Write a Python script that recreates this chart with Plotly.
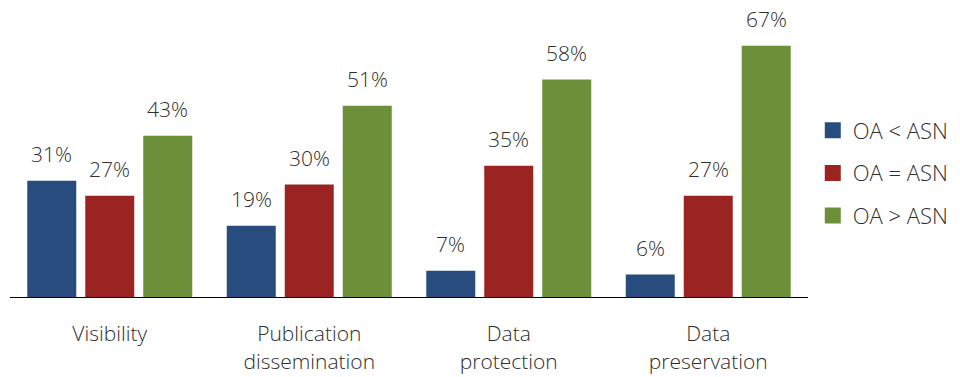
import plotly.graph_objects as go

categories = ["Visibility", "Publication<br>dissemination", "Data<br>protection", "Data<br>preservation"]
series_names = ["OA < ASN", "OA = ASN", "OA > ASN"]
oa_less = [31, 19, 7, 6]
oa_equal = [27, 30, 35, 27]
oa_greater = [43, 51, 58, 67]
colors = ["#294c7f", "#9b2423", "#6c8f3a"]

series_values = [oa_less, oa_equal, oa_greater]
FONT = dict(family="Open Sans", size=21, color="#2e2e2e", weight=300)
LEG_FONT = dict(family="Open Sans", size=22, color="#2e2e2e", weight=300)

fig = go.Figure()
offsets = [-58, 0, 58]
for name, vals, col, off in zip(series_names, series_values, colors, offsets):
    fig.add_trace(go.Bar(x=categories, y=vals, name=name, marker_color=col,
                         marker_line_width=0, showlegend=False))
    fig.add_trace(go.Scatter(x=[None], y=[None], mode="markers", name=name,
                             marker=dict(symbol="square", size=16, color=col),
                             legendgroup=name))
    for c, v in zip(categories, vals):
        fig.add_annotation(x=c, y=v, text=f"{v}%", showarrow=False,
                           xanchor="center", yanchor="bottom",
                           xshift=off, yshift=11, font=FONT)

fig.update_layout(
    width=960, height=377,
    margin=dict(l=10, r=152, t=0, b=80),
    paper_bgcolor="white", plot_bgcolor="white",
    barmode="group", bargap=0.128, bargroupgap=0.155,
    font=FONT,
    legend=dict(x=1.006, y=0.4175, xanchor="left", yanchor="middle",
                font=LEG_FONT, tracegroupgap=11, itemsizing="trace"),
    xaxis=dict(showline=True, linecolor="black", linewidth=1, ticks="",
               tickfont=FONT, ticklabelstandoff=18, showgrid=False),
    yaxis=dict(range=[0, 79.2], visible=False, showgrid=False),
)
fig.write_html("out.html")
